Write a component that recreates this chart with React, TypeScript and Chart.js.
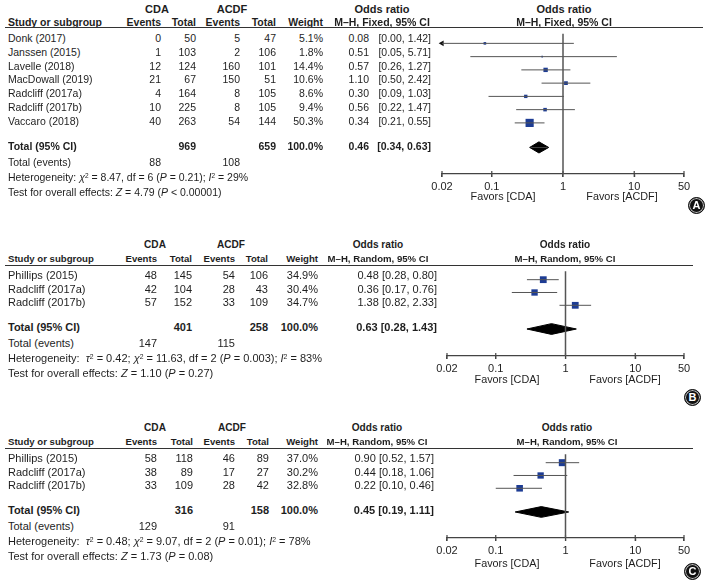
import React, { useEffect, useRef } from "react";
import { Chart, registerables } from "chart.js";
Chart.register(...registerables);

const FONT = '"Liberation Sans", Arial, Helvetica, sans-serif';
const INK = "#1e1e1e";
const BLUE = "#1d3c94";

const tickValues = [0.02, 0.1, 1, 10, 50];
const tickLabels = ["0.02", "0.1", "1", "10", "50"];

// ---------- Panel A ----------
const studiesA = ["Donk (2017)", "Janssen (2015)", "Lavelle (2018)", "MacDowall (2019)", "Radcliff (2017a)", "Radcliff (2017b)", "Vaccaro (2018)"];
const cdaEventsA = [0, 1, 12, 21, 4, 10, 40];
const cdaTotalA = [50, 103, 124, 67, 164, 225, 263];
const acdfEventsA = [5, 2, 160, 150, 8, 8, 54];
const acdfTotalA = [47, 106, 101, 51, 105, 105, 144];
const weightA = [5.1, 1.8, 14.4, 10.6, 8.6, 9.4, 50.3];
const orA = [0.08, 0.51, 0.57, 1.1, 0.3, 0.56, 0.34];
const loA = [0.0, 0.05, 0.26, 0.5, 0.09, 0.22, 0.21];
const hiA = [1.42, 5.71, 1.27, 2.42, 1.03, 1.47, 0.55];
const totalsA = [969, 659];
const totalEventsA = [88, 108];
const pooledA = [0.46, 0.34, 0.63];

// ---------- Panel B ----------
const studiesB = ["Phillips (2015)", "Radcliff (2017a)", "Radcliff (2017b)"];
const cdaEventsB = [48, 42, 57];
const cdaTotalB = [145, 104, 152];
const acdfEventsB = [54, 28, 33];
const acdfTotalB = [106, 43, 109];
const weightB = [34.9, 30.4, 34.7];
const orB = [0.48, 0.36, 1.38];
const loB = [0.28, 0.17, 0.82];
const hiB = [0.8, 0.76, 2.33];
const totalsB = [401, 258];
const totalEventsB = [147, 115];
const pooledB = [0.63, 0.28, 1.43];

// ---------- Panel C ----------
const studiesC = ["Phillips (2015)", "Radcliff (2017a)", "Radcliff (2017b)"];
const cdaEventsC = [58, 38, 33];
const cdaTotalC = [118, 89, 109];
const acdfEventsC = [46, 17, 28];
const acdfTotalC = [89, 27, 42];
const weightC = [37.0, 30.2, 32.8];
const orC = [0.9, 0.44, 0.22];
const loC = [0.52, 0.18, 0.1];
const hiC = [1.57, 1.06, 0.46];
const totalsC = [316, 158];
const totalEventsC = [129, 91];
const pooledC = [0.45, 0.19, 1.11];

const Sup = ({ children }: any) => (
  <sup style={{ fontSize: "0.62em", lineHeight: 0, verticalAlign: "0.5em" }}>{children}</sup>
);

const hetA = (<>Heterogeneity: <i>χ</i><Sup>2</Sup> = 8.47, df = 6 (<i>P</i> = 0.21); <i>I</i><Sup>2</Sup> = 29%</>);
const testA = (<>Test for overall effects: <i>Z</i> = 4.79 (<i>P</i> &lt; 0.00001)</>);
const hetB = (<>Heterogeneity:&nbsp; <i>τ</i><Sup>2</Sup> = 0.42; <i>χ</i><Sup>2</Sup> = 11.63, df = 2 (<i>P</i> = 0.003); <i>I</i><Sup>2</Sup> = 83%</>);
const testB = (<>Test for overall effects: <i>Z</i> = 1.10 (<i>P</i> = 0.27)</>);
const hetC = (<>Heterogeneity:&nbsp; <i>τ</i><Sup>2</Sup> = 0.48; <i>χ</i><Sup>2</Sup> = 9.07, df = 2 (<i>P</i> = 0.01); <i>I</i><Sup>2</Sup> = 78%</>);
const testC = (<>Test for overall effects: <i>Z</i> = 1.73 (<i>P</i> = 0.08)</>);

const layoutA = {
  hdr1: 9, hdr2: 22, lineY: 28, lineR: 703, row0: 38, rowH: 13.8,
  axisY: 174, axisL: 442, axisR: 684, favorsY: 196, favL: 503, favR: 622,
  cols: [161, 196, 240, 276, 323], orEstR: 369, orR: 431, split: true,
  cdaC: 157, acdfC: 232, orLC: 382, orRC: 564, hdrSize: 10.5, bodySize: 10.5,
  badge: [697, 206, "A"], method: "M–H, Fixed, 95% CI",
};
const layoutB = {
  hdr1: 245, hdr2: 259, lineY: 266, lineR: 693, row0: 275, rowH: 13.6,
  axisY: 356, axisL: 447, axisR: 684, favorsY: 379, favL: 507, favR: 625,
  cols: [157, 192, 235, 268, 318], orEstR: 0, orR: 437, split: false,
  cdaC: 155, acdfC: 231, orLC: 378, orRC: 565, hdrSize: 9.6, bodySize: 11,
  badge: [693, 398, "B"], method: "M–H, Random, 95% CI",
};
const layoutC = {
  hdr1: 428, hdr2: 442, lineY: 449, lineR: 693, row0: 458, rowH: 13.6,
  axisY: 538, axisL: 447, axisR: 684, favorsY: 563, favL: 507, favR: 625,
  cols: [157, 193, 235, 269, 318], orEstR: 0, orR: 434, split: false,
  cdaC: 155, acdfC: 232, orLC: 377, orRC: 567, hdrSize: 9.6, bodySize: 11,
  badge: [693, 572, "C"], method: "M–H, Random, 95% CI",
};

function T({ x, y, a = "l", b = false, s = 10.5, children }: any) {
  const tx = a === "r" ? "translateX(-100%)" : a === "c" ? "translateX(-50%)" : "none";
  return (
    <div style={{ position: "absolute", left: x, top: y - 8, height: 16, lineHeight: "16px", fontSize: s, fontWeight: b ? 700 : 400, whiteSpace: "nowrap", transform: tx, color: INK }}>
      {children}
    </div>
  );
}

function Forest({ or, lo, hi, weight, pooled, L }: any) {
  const ref = useRef<HTMLCanvasElement>(null);
  const cl = L.axisL - 28;
  const cr = L.axisR + 24;
  const ct = L.lineY;
  const ch = L.axisY - L.lineY + 24;
  useEffect(() => {
    const n = or.length;
    const yMin = (L.lineY - L.row0) / L.rowH;
    const yMax = (L.axisY - L.row0) / L.rowH;
    const tY = n - 1 + 1.85;
    const xMin = tickValues[0];
    const xMax = tickValues[tickValues.length - 1];
    const ds: any[] = [];
    // reference line at OR = 1
    ds.push({ data: [{ x: 1, y: yMin }, { x: 1, y: yMax }], borderColor: "#555", borderWidth: 1.5, pointRadius: 0, clip: false });
    // tick marks crossing the axis
    ds.push({
      data: tickValues.map((v) => ({ x: v, y: yMax })), showLine: false,
      pointStyle: "line", pointRotation: 90, pointRadius: 3, pointBorderColor: "#444", pointBorderWidth: 1.2, clip: false,
    });
    for (let i = 0; i < n; i++) {
      ds.push({ data: [{ x: Math.max(lo[i], xMin), y: i }, { x: Math.min(hi[i], xMax), y: i }], borderColor: "#555", borderWidth: 1, pointRadius: 0, clip: false });
    }
    const arrows: any[] = [];
    const rots: number[] = [];
    for (let i = 0; i < n; i++) {
      if (lo[i] < xMin) { arrows.push({ x: xMin, y: i }); rots.push(270); }
      if (hi[i] > xMax) { arrows.push({ x: xMax, y: i }); rots.push(90); }
    }
    if (arrows.length) {
      ds.push({ data: arrows, showLine: false, pointStyle: "triangle", pointRotation: rots, pointRadius: 3.3, pointBackgroundColor: "#111", pointBorderWidth: 0, clip: false });
    }
    ds.push({
      data: or.map((v: number, i: number) => ({ x: v, y: i })),
      showLine: false, pointStyle: "rect",
      pointRadius: weight.map((w: number) => (1.15 * Math.sqrt(w)) / Math.SQRT2),
      pointBackgroundColor: BLUE, pointBorderWidth: 0, clip: false,
    });
    const [est, dl, dh] = pooled;
    const h = 0.42;
    ds.push({ data: [{ x: dl, y: tY }, { x: est, y: tY - h }, { x: dh, y: tY }], fill: { value: tY }, backgroundColor: "#000", borderColor: "#000", borderWidth: 1, pointRadius: 0, tension: 0, clip: false });
    ds.push({ data: [{ x: dl, y: tY }, { x: est, y: tY + h }, { x: dh, y: tY }], fill: { value: tY }, backgroundColor: "#000", borderColor: "#000", borderWidth: 1, pointRadius: 0, tension: 0, clip: false });

    const chart = new Chart(ref.current as HTMLCanvasElement, {
      type: "line",
      data: { datasets: ds },
      options: {
        responsive: false,
        animation: false,
        events: [],
        layout: { padding: { left: L.axisL - cl, right: cr - L.axisR, top: 0, bottom: 0 } },
        plugins: { legend: { display: false }, tooltip: { enabled: false } },
        scales: {
          x: {
            type: "logarithmic",
            min: xMin,
            max: xMax,
            afterBuildTicks: (s: any) => { s.ticks = tickValues.map((v) => ({ value: v })); },
            afterFit: (s: any) => { s.height = 24; },
            ticks: {
              autoSkip: false, maxRotation: 0, padding: 3, color: INK,
              font: { family: FONT, size: 11 },
              callback: (_v: any, i: number) => tickLabels[i],
            },
            grid: { drawOnChartArea: false, drawTicks: true, tickLength: 3, color: "#444", lineWidth: 1.2 },
            border: { display: true, color: "#444", width: 1.2 },
          },
          y: { type: "linear", display: false, min: yMin, max: yMax, reverse: true },
        },
      } as any,
    });
    return () => chart.destroy();
  }, []);
  return (
    <canvas ref={ref} width={cr - cl} height={ch} style={{ position: "absolute", left: cl, top: ct, width: cr - cl, height: ch }} />
  );
}

function Panel(p: any) {
  const L = p.L;
  const n = p.studies.length;
  const rowY = (i: number) => L.row0 + i * L.rowH;
  const totY = L.row0 + (n - 1 + 1.85) * L.rowH;
  const hs = L.hdrSize;
  const bs = L.bodySize;
  const f2 = (v: number) => v.toFixed(2);
  return (
    <>
      <Forest or={p.or} lo={p.lo} hi={p.hi} weight={p.weight} pooled={p.pooled} L={L} />
      <T x={L.cdaC} y={L.hdr1} a="c" b s={hs + 0.5}>CDA</T>
      <T x={L.acdfC} y={L.hdr1} a="c" b s={hs + 0.5}>ACDF</T>
      <T x={L.orLC} y={L.hdr1} a="c" b s={hs + 0.5}>Odds ratio</T>
      <T x={L.orRC} y={L.hdr1} a="c" b s={hs + 0.5}>Odds ratio</T>
      <T x={8} y={L.hdr2} b s={hs}>Study or subgroup</T>
      <T x={L.cols[0]} y={L.hdr2} a="r" b s={hs}>Events</T>
      <T x={L.cols[1]} y={L.hdr2} a="r" b s={hs}>Total</T>
      <T x={L.cols[2]} y={L.hdr2} a="r" b s={hs}>Events</T>
      <T x={L.cols[3]} y={L.hdr2} a="r" b s={hs}>Total</T>
      <T x={L.cols[4]} y={L.hdr2} a="r" b s={hs}>Weight</T>
      <T x={L.orLC} y={L.hdr2} a="c" b s={hs}>{L.method}</T>
      <T x={L.orRC} y={L.hdr2} a="c" b s={hs}>{L.method}</T>
      <div style={{ position: "absolute", left: 5, top: L.lineY - 1, width: L.lineR - 5, height: 0, borderTop: "1.5px solid #333" }} />
      {p.studies.map((s: string, i: number) => (
        <React.Fragment key={i}>
          <T x={8} y={rowY(i)} s={bs}>{s}</T>
          <T x={L.cols[0]} y={rowY(i)} a="r" s={bs}>{p.cdaEv[i]}</T>
          <T x={L.cols[1]} y={rowY(i)} a="r" s={bs}>{p.cdaTot[i]}</T>
          <T x={L.cols[2]} y={rowY(i)} a="r" s={bs}>{p.acdfEv[i]}</T>
          <T x={L.cols[3]} y={rowY(i)} a="r" s={bs}>{p.acdfTot[i]}</T>
          <T x={L.cols[4]} y={rowY(i)} a="r" s={bs}>{p.weight[i].toFixed(1)}%</T>
          {L.split ? (
            <>
              <T x={L.orEstR} y={rowY(i)} a="r" s={bs}>{f2(p.or[i])}</T>
              <T x={L.orR} y={rowY(i)} a="r" s={bs}>[{f2(p.lo[i])}, {f2(p.hi[i])}]</T>
            </>
          ) : (
            <T x={L.orR} y={rowY(i)} a="r" s={bs}>{f2(p.or[i])} [{f2(p.lo[i])}, {f2(p.hi[i])}]</T>
          )}
        </React.Fragment>
      ))}
      <T x={8} y={totY} b s={bs}>Total (95% CI)</T>
      <T x={L.cols[1]} y={totY} a="r" b s={bs}>{p.totals[0]}</T>
      <T x={L.cols[3]} y={totY} a="r" b s={bs}>{p.totals[1]}</T>
      <T x={L.cols[4]} y={totY} a="r" b s={bs}>100.0%</T>
      {L.split ? (
        <>
          <T x={L.orEstR} y={totY} a="r" b s={bs}>{f2(p.pooled[0])}</T>
          <T x={L.orR} y={totY} a="r" b s={bs}>[{f2(p.pooled[1])}, {f2(p.pooled[2])}]</T>
        </>
      ) : (
        <T x={L.orR} y={totY} a="r" b s={bs}>{f2(p.pooled[0])} [{f2(p.pooled[1])}, {f2(p.pooled[2])}]</T>
      )}
      <T x={8} y={totY + 16} s={bs}>Total (events)</T>
      <T x={L.cols[0]} y={totY + 16} a="r" s={bs}>{p.totalEvents[0]}</T>
      <T x={L.cols[2]} y={totY + 16} a="r" s={bs}>{p.totalEvents[1]}</T>
      <T x={8} y={totY + 30.5} s={bs}>{p.het}</T>
      <T x={8} y={totY + 45.5} s={bs}>{p.test}</T>
      <T x={L.favL} y={L.favorsY} a="c" s={10.8}>Favors [CDA]</T>
      <T x={L.favR} y={L.favorsY} a="c" s={10.8}>Favors [ACDF]</T>
      <div style={{
        position: "absolute", left: L.badge[0] - 9, top: L.badge[1] - 9, width: 15, height: 15,
        borderRadius: "50%", background: "#111", border: "1.5px solid #111",
        boxShadow: "inset 0 0 0 1px #bbb", color: "#fff", fontWeight: 700, fontSize: 11,
        lineHeight: "15px", textAlign: "center",
      }}>{L.badge[2]}</div>
    </>
  );
}

export default function App() {
  return (
    <div style={{ position: "fixed", left: 0, top: 0, width: 709, height: 581, background: "#fff", fontFamily: FONT, overflow: "hidden" }}>
      <Panel L={layoutA} studies={studiesA} cdaEv={cdaEventsA} cdaTot={cdaTotalA} acdfEv={acdfEventsA} acdfTot={acdfTotalA}
        weight={weightA} or={orA} lo={loA} hi={hiA} totals={totalsA} totalEvents={totalEventsA} pooled={pooledA} het={hetA} test={testA} />
      <Panel L={layoutB} studies={studiesB} cdaEv={cdaEventsB} cdaTot={cdaTotalB} acdfEv={acdfEventsB} acdfTot={acdfTotalB}
        weight={weightB} or={orB} lo={loB} hi={hiB} totals={totalsB} totalEvents={totalEventsB} pooled={pooledB} het={hetB} test={testB} />
      <Panel L={layoutC} studies={studiesC} cdaEv={cdaEventsC} cdaTot={cdaTotalC} acdfEv={acdfEventsC} acdfTot={acdfTotalC}
        weight={weightC} or={orC} lo={loC} hi={hiC} totals={totalsC} totalEvents={totalEventsC} pooled={pooledC} het={hetC} test={testC} />
    </div>
  );
}
